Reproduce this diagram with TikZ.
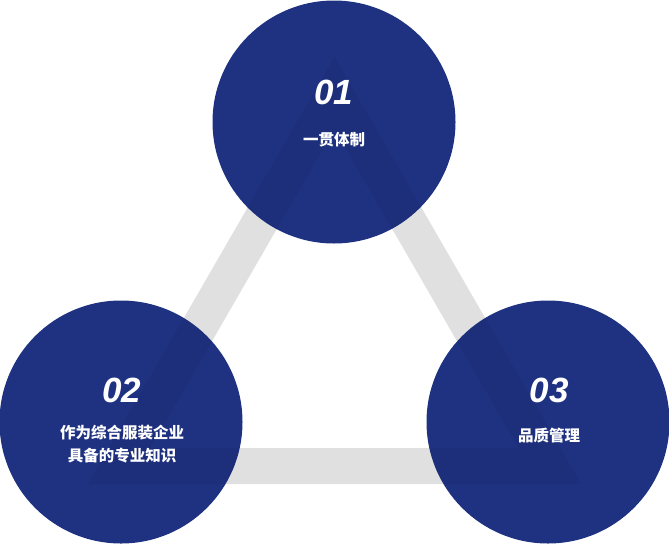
\documentclass[tikz,border=0pt]{standalone}
\usepackage{fontspec}
\setmainfont{Liberation Sans}
\newfontfamily\cjk{Noto Sans CJK SC}
\usepackage{tikz}

\definecolor{navy}{RGB}{31,50,130}
\definecolor{band}{RGB}{239,239,239}

\begin{document}
\begin{tikzpicture}[x=1pt, y=-1pt,
  disc/.style={circle, fill=navy, minimum size=243pt, inner sep=0pt},
  tri/.style={line width=36pt, line join=miter},
  num/.style={text=white, font=\fontsize{35}{35}\selectfont\bfseries\itshape},
  lbl/.style={text=white, align=center, font=\fontsize{15.5}{23.5}\selectfont\cjk\bfseries}]
  \useasboundingbox (0,0) rectangle (669,544);

  \coordinate (T1) at (334.5,93);
  \coordinate (T2) at (119.2,466);
  \coordinate (T3) at (549.8,466);
  \draw[tri, band] (T1) -- (T2) -- (T3) -- cycle;

  \node[disc] (C1) at (334,122) {};
  \node[disc] (C2) at (121,422) {};
  \node[disc] (C3) at (548,422) {};

  % faint shade of the triangle over the discs
  \draw[tri, black, opacity=0.06] (T1) -- (T2) -- (T3) -- cycle;

  \node[num] (N1) at (334,92) {01};
  \node[lbl] (L1) at (334,140) {一贯体制};
  \node[num] (N2) at (122,390) {02};
  \node[lbl] (L2) at (122,444) {作为综合服装企业\\具备的专业知识};
  \node[num] (N3) at (549,390) {03};
  \node[lbl] (L3) at (549,436) {品质管理};
\end{tikzpicture}
\end{document}
